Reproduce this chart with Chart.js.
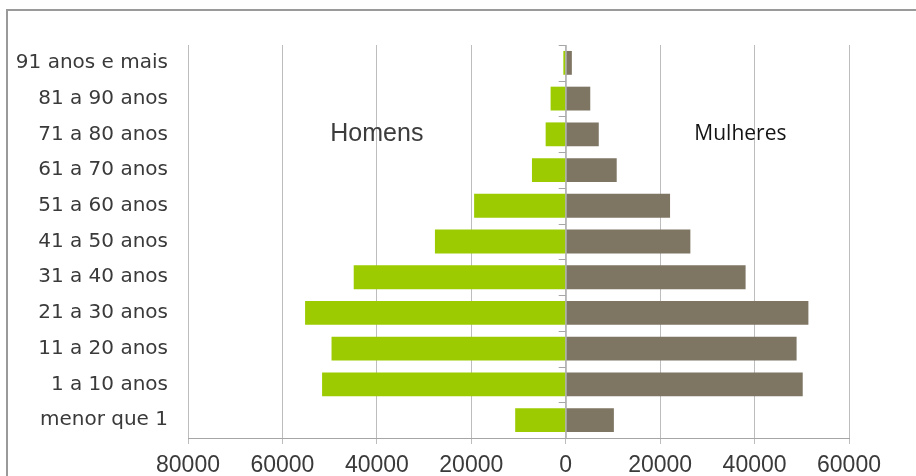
<!DOCTYPE html>
<html>
<head>
<meta charset="utf-8">
<script src="https://cdn.jsdelivr.net/npm/chart.js@4/dist/chart.umd.min.js"></script>
<style>
    html, body { margin: 0; padding: 0; background: #ffffff; }
    #wrap { position: relative; width: 916px; height: 476px; }
</style>
</head>
<body>
<div id="wrap"><canvas id="piramideChart" width="916" height="476"></canvas></div>
<script>
// Faixas etárias (de cima para baixo)
var faixas = [
    '91 anos e mais',
    '81 a 90 anos',
    '71 a 80 anos',
    '61 a 70 anos',
    '51 a 60 anos',
    '41 a 50 anos',
    '31 a 40 anos',
    '21 a 30 anos',
    '11 a 20 anos',
    '1 a 10 anos',
    'menor que 1'
];

// População por sexo
var homens = [500, 3200, 4250, 7150, 19400, 27700, 44900, 55200, 49600, 51600, 10700];
var mulheres = [1300, 5200, 7000, 10800, 22100, 26400, 38100, 51400, 48900, 50200, 10200];

// Eixo horizontal
var eixoMin = -80000;
var eixoMax = 60000;
var eixoPasso = 20000;

var corHomens = '#9bcb00';
var corMulheres = '#7e7563';
var corGrade = '#bdbdbd';
var corTexto = '#3a3a3a';

// Moldura externa do gráfico
var molduraPlugin = {
    id: 'moldura',
    beforeDraw: function(chart) {
        var ctx = chart.ctx;
        ctx.save();
        ctx.strokeStyle = '#9a9a9a';
        ctx.lineWidth = 2;
        ctx.beginPath();
        ctx.moveTo(920, 10);
        ctx.lineTo(7, 10);
        ctx.lineTo(7, 480);
        ctx.stroke();
        ctx.restore();
    }
};

// Marcas das categorias sobre o eixo central (valor 0)
var marcasCentroPlugin = {
    id: 'marcasCentro',
    afterDatasetsDraw: function(chart) {
        var ctx = chart.ctx;
        var x = chart.scales.x.getPixelForValue(0);
        var y = chart.scales.y;
        var passo = y.getPixelForValue(1) - y.getPixelForValue(0);
        ctx.save();
        ctx.strokeStyle = '#a6a6a6';
        ctx.lineWidth = 1;
        ctx.beginPath();
        ctx.moveTo(x + 0.5, chart.chartArea.top);
        ctx.lineTo(x + 0.5, chart.chartArea.bottom);
        for (var i = 0; i < faixas.length; i++) {
            var yy = Math.round(y.getPixelForValue(i) - passo / 2) + 0.5;
            ctx.moveTo(x - 7, yy);
            ctx.lineTo(x, yy);
        }
        ctx.stroke();
        ctx.restore();
    }
};

// Rótulos "Homens" e "Mulheres"
var rotulosPlugin = {
    id: 'rotulosSexo',
    afterDraw: function(chart) {
        var ctx = chart.ctx;
        var sx = chart.scales.x;
        var sy = chart.scales.y;
        var yy = sy.getPixelForValue(2);
        ctx.save();
        ctx.textAlign = 'center';
        ctx.textBaseline = 'middle';
        ctx.fillStyle = '#3c3c3c';
        ctx.font = '25px "Liberation Sans"';
        ctx.fillText('Homens', sx.getPixelForValue(-40000), yy);
        ctx.fillStyle = '#141414';
        ctx.font = '21px "Open Sans"';
        ctx.fillText('Mulheres', sx.getPixelForValue(37000), yy);
        ctx.restore();
    }
};

var ctx = document.getElementById('piramideChart').getContext('2d');
var piramideChart = new Chart(ctx, {
    type: 'bar',
    data: {
        labels: faixas,
        datasets: [
            {
                label: 'Homens',
                data: homens.map(function(v) { return -v; }),
                backgroundColor: corHomens,
                barPercentage: 0.667,
                categoryPercentage: 1
            },
            {
                label: 'Mulheres',
                data: mulheres,
                backgroundColor: corMulheres,
                barPercentage: 0.667,
                categoryPercentage: 1
            }
        ]
    },
    options: {
        indexAxis: 'y',
        responsive: false,
        animation: false,
        layout: {
            padding: { top: 45, right: 67, bottom: 0, left: 0 }
        },
        plugins: {
            legend: { display: false },
            tooltip: { enabled: false }
        },
        scales: {
            x: {
                stacked: true,
                min: eixoMin,
                max: eixoMax,
                grid: {
                    color: corGrade,
                    lineWidth: 1,
                    tickLength: 6,
                    drawTicks: true
                },
                border: { display: true, color: '#a6a6a6' },
                ticks: {
                    stepSize: eixoPasso,
                    color: corTexto,
                    padding: 8,
                    font: { family: 'Liberation Sans', size: 23 },
                    callback: function(value) { return Math.abs(value); }
                },
                afterFit: function(scale) { scale.height = 38; }
            },
            y: {
                stacked: true,
                grid: { display: false },
                border: { display: false },
                ticks: {
                    color: corTexto,
                    padding: 12,
                    font: { family: 'DejaVu Sans', size: 20 }
                },
                afterFit: function(scale) { scale.width = 188; }
            }
        }
    },
    plugins: [molduraPlugin, marcasCentroPlugin, rotulosPlugin]
});
</script>
</body>
</html>
